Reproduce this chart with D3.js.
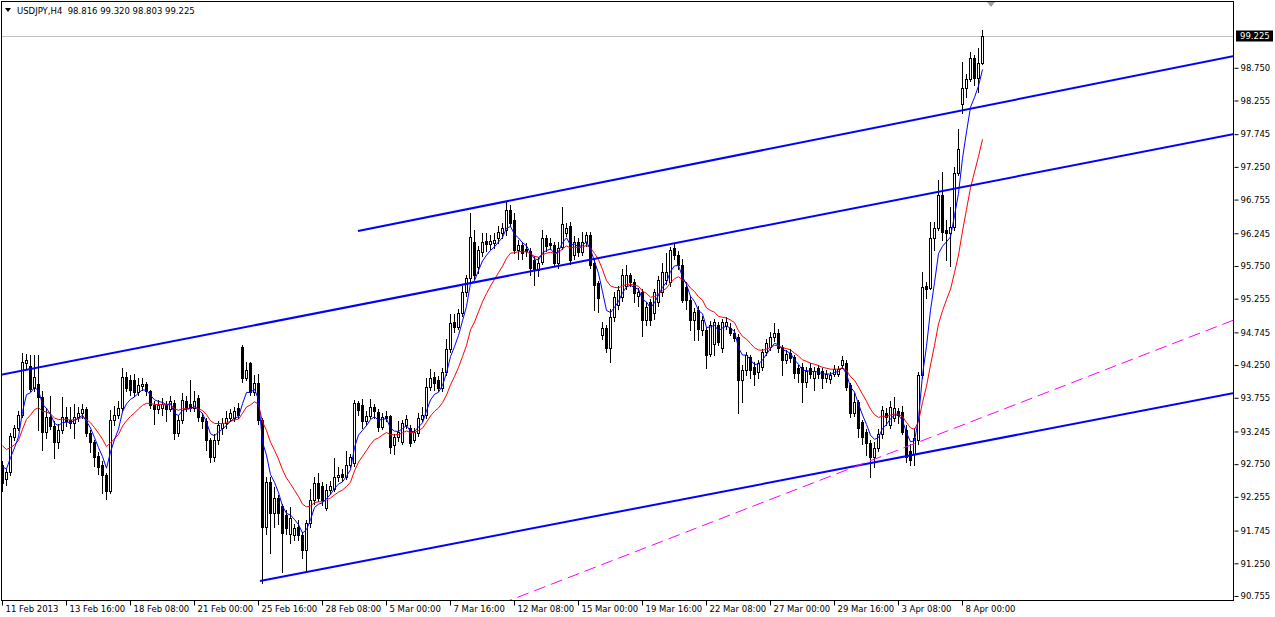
<!DOCTYPE html>
<html><head><meta charset="utf-8">
<script src="https://cdn.jsdelivr.net/npm/d3@7"></script>
<style>html,body{margin:0;padding:0;background:#fff;overflow:hidden}</style>
</head><body>
<svg id="chart" width="1275" height="617"></svg>
<script>
// ---------------- DATA ----------------
const chartTitle = "USDJPY,H4  98.816 99.320 98.803 99.225";
const lastPrice = 99.225;

// H4 bars from 11 Feb 2013 00:00 to 8 Apr 2013 20:00 (246 bars)
const opens = [
92.74,92.52,92.63,93.16,93.30,93.50,94.28,94.24,93.90,93.97,93.77,93.24,93.47,93.33,93.09,93.27,93.47,93.42,93.37,93.47,
93.52,93.58,93.22,93.09,92.88,92.74,92.59,92.34,93.42,93.50,93.60,94.07,94.02,94.02,93.84,93.93,93.97,93.85,93.65,93.58,
93.60,93.64,93.58,93.67,93.22,93.42,93.70,93.66,93.60,93.75,93.47,93.40,93.12,92.86,93.12,93.30,93.37,93.45,93.45,93.60,
94.53,94.06,94.28,93.84,93.98,93.42,91.80,92.48,92.01,92.24,92.11,91.98,91.70,91.68,91.80,91.68,91.45,91.86,92.21,92.47,
92.42,92.09,92.36,92.38,92.56,92.60,92.56,92.74,92.77,93.68,93.65,93.40,93.48,93.61,93.54,93.31,93.48,93.48,93.04,93.16,
93.09,93.35,93.30,93.12,93.22,93.43,93.49,93.92,94.07,94.02,93.90,94.15,94.50,94.90,94.83,95.04,95.36,95.57,96.11,95.73,
95.96,96.13,96.09,96.10,96.17,96.25,96.29,96.60,96.45,95.99,96.07,96.00,95.98,95.84,95.69,95.81,96.17,96.10,96.07,95.80,
96.04,96.25,96.35,95.91,96.11,95.96,96.11,96.22,95.79,95.49,94.71,94.81,94.51,94.98,95.16,95.28,95.45,95.61,95.51,95.30,
95.36,94.93,95.21,95.04,95.21,95.36,95.54,95.51,96.02,95.92,95.77,95.43,95.24,94.93,95.09,94.78,94.78,94.42,94.57,94.85,
94.51,94.84,94.81,94.74,94.68,94.02,94.18,94.37,94.22,94.15,94.22,94.45,94.52,94.67,94.74,94.52,94.33,94.44,94.37,94.20,
94.22,93.99,94.21,94.05,94.20,94.16,94.06,94.04,94.12,94.12,94.25,94.28,93.95,93.52,93.69,93.39,93.24,93.07,92.86,93.00,
93.21,93.53,93.34,93.45,93.55,93.54,93.27,92.95,92.90,93.12,94.10,95.45,95.42,96.17,96.33,96.82,96.29,96.25,96.34,97.16,
98.20,98.44,98.58,98.90,98.60,98.816];
const highs = [
92.80,92.68,93.22,93.34,93.56,94.44,94.42,94.40,94.40,94.40,93.85,93.60,93.78,93.40,93.36,93.77,93.62,93.62,93.66,93.62,
93.66,93.62,93.26,93.12,92.93,92.80,92.62,93.57,93.63,93.70,94.20,94.14,94.10,94.12,94.05,94.05,94.00,93.88,93.70,93.72,
93.75,93.70,93.78,93.72,93.50,93.82,93.78,94.02,93.85,93.80,93.52,93.45,93.15,93.20,93.40,93.45,93.55,93.58,93.62,93.68,
94.55,94.30,94.30,94.10,94.11,93.45,92.55,92.55,92.40,92.28,92.15,92.05,92.10,91.85,91.90,91.72,91.90,92.38,92.56,92.62,
92.48,92.45,92.50,92.84,92.70,92.68,92.95,92.90,93.72,93.71,93.73,93.55,93.74,93.66,93.58,93.52,93.55,93.50,93.20,93.40,
93.42,93.50,93.35,93.30,93.52,93.62,94.05,94.19,94.15,94.08,94.21,94.65,95.02,95.02,95.10,95.45,95.62,96.55,96.30,96.05,
96.25,96.25,96.22,96.25,96.35,96.40,96.73,96.68,96.55,96.15,96.12,96.10,96.02,95.90,95.88,96.30,96.22,96.18,96.12,96.12,
96.65,96.40,96.42,96.20,96.18,96.26,96.27,96.26,95.85,95.52,94.90,94.85,95.10,95.35,95.45,95.70,95.76,95.64,95.55,95.42,
95.40,95.20,95.25,95.40,95.60,95.80,95.95,96.04,96.10,95.98,95.85,95.50,95.30,95.12,95.15,95.00,94.82,94.92,94.95,94.90,
94.95,94.98,94.88,94.80,94.72,94.25,94.45,94.40,94.30,94.32,94.50,94.64,94.75,94.89,94.80,94.56,94.48,94.50,94.40,94.25,
94.28,94.22,94.28,94.22,94.25,94.20,94.18,94.15,94.25,94.23,94.39,94.33,93.98,93.82,93.72,93.42,93.28,93.12,93.08,93.28,
93.63,93.60,93.70,93.76,93.60,93.63,93.35,93.05,93.30,94.15,95.66,95.51,96.42,96.42,97.05,97.17,96.45,96.64,97.25,97.82,
98.84,98.66,98.99,98.94,99.05,99.320];
const lows = [
92.34,92.44,92.58,93.12,93.26,93.46,94.20,93.85,93.85,93.27,92.97,93.15,93.28,92.84,93.00,93.22,93.33,93.30,93.14,93.40,
93.45,93.18,92.94,92.72,92.60,92.31,92.23,92.31,93.35,93.45,93.55,93.85,93.80,93.78,93.80,93.88,93.80,93.60,93.36,93.52,
93.50,93.40,93.55,93.13,93.18,93.38,93.55,93.55,93.55,93.40,93.30,92.96,92.79,92.80,93.05,93.20,93.30,93.40,93.40,93.45,
94.00,94.02,93.79,93.80,93.36,90.95,91.70,91.41,91.80,91.85,91.12,91.70,91.55,91.60,91.60,91.33,91.15,91.80,92.15,92.20,
92.13,92.05,92.30,92.35,92.50,92.50,92.52,92.70,92.72,93.50,93.30,93.35,93.45,93.45,93.25,93.28,93.40,92.92,92.90,93.10,
93.05,93.30,93.02,93.08,93.18,93.40,93.45,93.88,93.88,93.85,93.86,94.10,94.45,94.75,94.80,95.00,95.30,95.50,95.55,95.65,
95.90,95.98,96.00,96.02,96.10,96.18,96.22,96.35,95.95,95.85,95.85,95.90,95.62,95.46,95.60,95.78,95.98,96.00,95.75,95.72,
96.00,96.20,95.78,95.85,95.90,95.92,96.05,95.72,95.08,95.05,94.65,94.45,94.30,94.92,95.10,95.22,95.40,95.45,95.20,95.15,
94.69,94.85,94.85,94.95,95.15,95.30,95.48,95.45,95.85,95.70,95.20,95.10,94.78,94.63,94.63,94.70,94.21,94.38,94.40,94.55,
94.45,94.80,94.70,94.62,93.53,93.69,94.10,94.05,93.95,94.05,94.18,94.40,94.48,94.62,94.45,94.10,94.28,94.30,94.05,94.00,
93.69,93.92,94.05,93.88,94.05,93.90,94.00,93.98,94.08,94.08,94.20,93.88,93.46,93.48,93.16,93.05,92.89,92.56,92.70,92.95,
93.15,93.35,93.30,93.40,93.38,93.20,92.78,92.74,92.73,93.05,94.05,95.27,95.40,95.99,96.30,96.14,95.84,95.75,96.30,97.13,
98.07,98.31,98.55,98.49,98.38,98.803];
const closes = [
92.47,92.63,93.18,93.30,93.50,94.30,94.32,93.89,94.07,93.77,93.24,93.47,93.33,93.09,93.27,93.47,93.40,93.37,93.47,93.52,
93.58,93.22,93.09,92.86,92.70,92.59,92.34,93.42,93.50,93.60,94.07,93.90,93.87,93.84,93.95,93.97,93.85,93.65,93.58,93.65,
93.66,93.58,93.70,93.22,93.42,93.72,93.62,93.60,93.70,93.47,93.40,93.12,92.86,93.12,93.35,93.37,93.45,93.52,93.55,93.50,
94.06,94.18,93.84,93.98,93.42,91.80,92.48,92.01,92.24,92.01,91.71,91.78,91.93,91.78,91.68,91.45,91.86,92.21,92.47,92.24,
92.21,92.36,92.42,92.56,92.58,92.55,92.74,92.86,93.68,93.57,93.40,93.48,93.61,93.55,93.31,93.46,93.45,93.01,93.16,93.24,
93.37,93.43,93.07,93.24,93.45,93.50,93.92,94.05,93.98,93.90,94.15,94.50,94.88,94.83,95.04,95.36,95.57,96.19,95.61,95.99,
96.11,96.09,96.13,96.15,96.26,96.32,96.60,96.40,95.99,96.07,95.95,95.97,95.72,95.69,95.80,96.17,96.05,96.06,95.80,96.02,
96.38,96.32,95.84,96.11,95.96,96.11,96.22,95.77,95.46,95.27,94.81,94.51,94.98,95.28,95.39,95.61,95.61,95.51,95.34,95.36,
94.93,95.13,94.93,95.36,95.54,95.66,95.66,95.99,95.92,95.77,95.24,95.24,94.93,95.06,94.80,94.93,94.40,94.85,94.90,94.60,
94.90,94.90,94.74,94.66,94.02,94.18,94.40,94.18,94.12,94.28,94.45,94.59,94.67,94.74,94.51,94.33,94.42,94.36,94.13,94.13,
93.99,94.16,94.12,94.16,94.12,94.06,94.12,94.10,94.19,94.19,94.33,93.92,93.52,93.69,93.30,93.16,93.07,92.86,93.00,93.21,
93.57,93.47,93.61,93.60,93.50,93.24,92.86,92.81,93.14,94.10,95.43,95.40,96.17,96.33,96.82,96.27,96.25,96.34,97.16,97.52,
98.44,98.58,98.90,98.60,98.82,99.225];
// closes of the bars just before the visible window (estimated from where the averages start)
const priorCloses = [93.70,93.65,93.55,93.50,93.40,93.35,93.25,93.10,92.85,92.70,92.65,92.70];

const fastPeriod = 5;   // blue moving average
const slowPeriod = 13;  // red moving average

const dateTickIndex = [0,16,32,48,64,80,96,112,128,144,160,176,192,208,224,240];
const dateTickLabels = ["11 Feb 2013","13 Feb 16:00","18 Feb 08:00","21 Feb 00:00","25 Feb 16:00","28 Feb 08:00",
  "5 Mar 00:00","7 Mar 16:00","12 Mar 08:00","15 Mar 00:00","19 Mar 16:00","22 Mar 08:00","27 Mar 00:00",
  "29 Mar 16:00","3 Apr 08:00","8 Apr 00:00"];
const priceTickLabels = ["98.750","98.255","97.745","97.250","96.755","96.245","95.750","95.255","94.745",
  "94.250","93.755","93.245","92.750","92.255","91.745","91.250","90.755"];

// trend lines: [bar index, price] anchor pairs
const channelUpper  = [[89, 96.280], [308, 98.928]];
const channelMiddle = [[-0.5, 94.100], [308, 97.748]];
const channelLower  = [[64.5, 90.983], [308, 93.828]];
const supportDashed = [[217, 92.800], [308, 94.933]];

// ---------------- DRAW ----------------
const svg = d3.select("#chart");
const plot = {left: 0, top: 0, right: 1234, bottom: 600};
const x = d3.scaleLinear().domain([-0.5, 308]).range([plot.left, plot.right]);
const y = d3.scaleLinear().domain([90.694, 99.776]).range([plot.bottom, plot.top]);
const font = "'DejaVu Sans', Tahoma, sans-serif";

svg.append("rect").attr("width",1275).attr("height",617).attr("fill","#fff");
svg.append("clipPath").attr("id","clip").append("rect")
  .attr("x",1).attr("y",1).attr("width",1233).attr("height",599);
const g = svg.append("g").attr("clip-path","url(#clip)");

// bid line
const yl = Math.round(y(lastPrice)) + 0.5;
g.append("line").attr("x1",1).attr("x2",plot.right).attr("y1",yl).attr("y2",yl)
  .attr("stroke","#c0c0c0").attr("stroke-width",1);

// candles
const bars = d3.range(closes.length);
const cg = g.append("g");
bars.forEach(i => {
  const cx = Math.round(x(i));
  const o = opens[i], c = closes[i];
  cg.append("line").attr("x1",cx+0.5).attr("x2",cx+0.5)
    .attr("y1",Math.round(y(highs[i]))).attr("y2",Math.round(y(lows[i]))+1)
    .attr("stroke","#000").attr("stroke-width",1);
  const top = Math.round(y(Math.max(o,c))), bot = Math.round(y(Math.min(o,c)));
  if (bot - top < 1) {
    cg.append("line").attr("x1",cx-1).attr("x2",cx+2).attr("y1",top+0.5).attr("y2",top+0.5)
      .attr("stroke","#000");
  } else {
    cg.append("rect").attr("x",cx-0.5).attr("y",top+0.5).attr("width",2).attr("height",bot-top)
      .attr("fill", c >= o ? "#fff" : "#000").attr("stroke","#000").attr("stroke-width",1);
  }
});

// moving averages
function ema(series, period) {
  const k = 2/(period+1); let e = series[0];
  return series.map((v,i) => i === 0 ? e : (e = e + k*(v - e)));
}
const all = priorCloses.concat(closes);
const fast = ema(all, fastPeriod).slice(priorCloses.length);
const slow = ema(all, slowPeriod).slice(priorCloses.length);
const maLine = d3.line().x((d,i) => Math.round(x(i))+0.5).y(d => y(d));
g.append("path").attr("d", maLine(slow)).attr("fill","none").attr("stroke","#ff0000").attr("stroke-width",1);
g.append("path").attr("d", maLine(fast)).attr("fill","none").attr("stroke","#0000ff").attr("stroke-width",1);

// trend lines
function ray(pts, fromStart) {
  const [[i1,p1],[i2,p2]] = pts; const s = (p2-p1)/(i2-i1);
  const a = fromStart ? i1 : -60;
  return [[x(a), y(p1 + s*(a-i1))], [x(320), y(p1 + s*(320-i1))]];
}
[[channelUpper,true],[channelMiddle,false],[channelLower,true]].forEach(([pts,fs]) => {
  const r = ray(pts, fs);
  g.append("line").attr("x1",r[0][0]).attr("y1",r[0][1]).attr("x2",r[1][0]).attr("y2",r[1][1])
    .attr("stroke","#0000ff").attr("stroke-width",2);
});
{
  const r = ray(supportDashed, false);
  g.append("line").attr("x1",r[0][0]).attr("y1",r[0][1]).attr("x2",r[1][0]).attr("y2",r[1][1])
    .attr("stroke","#ff00ff").attr("stroke-width",1).attr("stroke-dasharray","12,6");
}

// frame
svg.append("rect").attr("x",1.5).attr("y",1.5).attr("width",1232).attr("height",599)
  .attr("fill","none").attr("stroke","#000").attr("stroke-width",1);

// price axis
const yAxis = d3.axisRight(y).tickValues(priceTickLabels.map(Number)).tickSize(4)
  .tickFormat((d,i) => priceTickLabels[i]);
const ya = svg.append("g").attr("transform",`translate(${plot.right+0.5},0)`).call(yAxis);
ya.select(".domain").remove();
ya.selectAll(".tick line").attr("stroke","#000");
ya.selectAll(".tick text").attr("x",6).attr("font-family",font).attr("font-size","8.5px").attr("fill","#000");

// time axis
const xAxis = d3.axisBottom(x).tickValues(dateTickIndex).tickSize(5)
  .tickFormat((d,i) => dateTickLabels[i]);
const xa = svg.append("g").attr("transform",`translate(0,${plot.bottom+0.5})`).call(xAxis);
xa.select(".domain").remove();
xa.selectAll(".tick line").attr("stroke","#000");
xa.selectAll(".tick text").attr("text-anchor","start").attr("x",3).attr("y",5)
  .attr("font-family",font).attr("font-size","8.5px").attr("fill","#000");

// last price box
const lp = svg.append("g");
lp.append("rect").attr("x",plot.right+2).attr("y",Math.round(y(lastPrice))-5.5).attr("width",37).attr("height",11).attr("fill","#000");
lp.append("text").attr("x",plot.right+6).attr("y",y(lastPrice)).attr("dy","0.32em")
  .attr("font-family",font).attr("font-size","8.5px").attr("fill","#fff").text(lastPrice.toFixed(3));

// title
svg.append("path").attr("d","M5,8 L11,8 L8,12 Z").attr("fill","#000");
svg.append("text").attr("x",17).attr("y",14).attr("font-family",font).attr("font-size","8.5px")
  .attr("fill","#000").attr("xml:space","preserve").style("white-space","pre").text(chartTitle);

// chart shift marker
svg.append("path").attr("d",`M${x(246)+1},2 L${x(246)+9},2 L${x(246)+5},7 Z`).attr("fill","#a0a0a0");
</script>
</body></html>
